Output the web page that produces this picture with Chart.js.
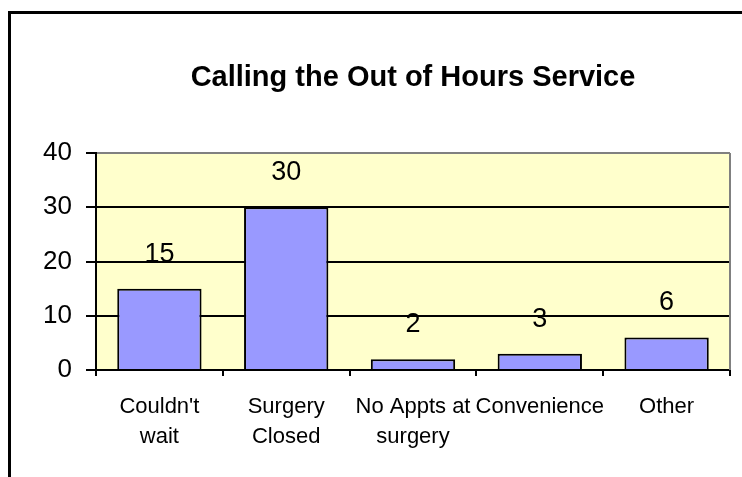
<!DOCTYPE html>
<html>
<head>
<meta charset="utf-8">
<script src="https://cdn.jsdelivr.net/npm/chart.js@4.4.1/dist/chart.umd.min.js"></script>
<style>
  html, body { margin: 0; padding: 0; background: #ffffff; }
  #wrap { position: relative; width: 742px; height: 477px; }
  canvas { display: block; }
</style>
</head>
<body>
<div id="wrap"><canvas id="c" width="742" height="477"></canvas></div>
<script>
const categories = [["Couldn't", "wait"], ["Surgery", "Closed"], ["No Appts at", "surgery"], ["Convenience"], ["Other"]];
const values = [15, 30, 2, 3, 6];
const yTicks = [0, 10, 20, 30, 40];
const chartTitle = "Calling the Out of Hours Service";

const FONT = "'Liberation Sans', Arial, sans-serif";

const framePlugin = {
  id: 'frame',
  beforeDraw(chart) {
    const ctx = chart.ctx;
    const a = chart.chartArea;
    ctx.save();
    ctx.fillStyle = '#ffffff';
    ctx.fillRect(0, 0, chart.width, chart.height);
    ctx.strokeStyle = '#000000';
    ctx.lineWidth = 3;
    ctx.strokeRect(9.5, 12.5, chart.width + 20, chart.height + 20);
    ctx.fillStyle = '#FFFFCC';
    ctx.fillRect(a.left, a.top, a.right - a.left, a.bottom - a.top);
    ctx.restore();
  },
  afterDatasetsDraw(chart) {
    const ctx = chart.ctx;
    const a = chart.chartArea;
    ctx.save();
    ctx.strokeStyle = '#808080';
    ctx.lineWidth = 2;
    ctx.beginPath();
    ctx.moveTo(a.right, a.top);
    ctx.lineTo(a.right, a.bottom);
    ctx.stroke();
    // data labels
    const meta = chart.getDatasetMeta(0);
    ctx.fillStyle = '#000000';
    ctx.font = "27px " + FONT;
    ctx.textAlign = 'center';
    ctx.textBaseline = 'alphabetic';
    meta.data.forEach((bar, i) => {
      ctx.fillText(String(chart.data.datasets[0].data[i]), bar.x, bar.y - 27);
    });
    ctx.restore();
  }
};

new Chart(document.getElementById('c'), {
  type: 'bar',
  data: {
    labels: categories,
    datasets: [{
      data: values,
      backgroundColor: '#9999FF',
      borderColor: '#000000',
      borderWidth: 2,
      barPercentage: 0.665,
      categoryPercentage: 1.0
    }]
  },
  options: {
    responsive: false,
    animation: false,
    devicePixelRatio: 1,
    layout: { padding: { left: 0, right: 12, top: 0, bottom: 0 } },
    plugins: {
      legend: { display: false },
      tooltip: { enabled: false },
      title: {
        display: true,
        text: chartTitle,
        fullSize: false,
        color: '#000000',
        font: { family: FONT, size: 29, weight: 'bold', lineHeight: 1.2 },
        padding: { top: 61, bottom: 57.2 }
      }
    },
    scales: {
      x: {
        grid: {
          display: true,
          drawOnChartArea: false,
          drawTicks: true,
          tickLength: 6,
          color: '#000000',
          lineWidth: 2,
          offset: true
        },
        border: { display: true, color: '#000000', width: 2 },
        ticks: {
          color: '#000000',
          font: { family: FONT, size: 22, lineHeight: 1.36 },
          padding: 16,
          maxRotation: 0,
          autoSkip: false
        },
        afterFit(scale) { scale.height = 107; }
      },
      y: {
        min: 0,
        max: 40,
        afterBuildTicks(scale) { scale.ticks = yTicks.map(v => ({ value: v })); },
        grid: {
          color: (ctx) => (ctx.tick && ctx.tick.value === 40 ? '#808080' : '#000000'),
          lineWidth: 2,
          tickLength: 10,
          tickColor: '#000000',
          drawTicks: true
        },
        border: { display: true, color: '#000000', width: 2 },
        ticks: {
          color: '#000000',
          font: { family: FONT, size: 26 },
          padding: 14
        },
        afterFit(scale) { scale.width = 96; scale.paddingTop = 0; scale.paddingBottom = 0; }
      }
    }
  },
  plugins: [framePlugin]
});
</script>
</body>
</html>
